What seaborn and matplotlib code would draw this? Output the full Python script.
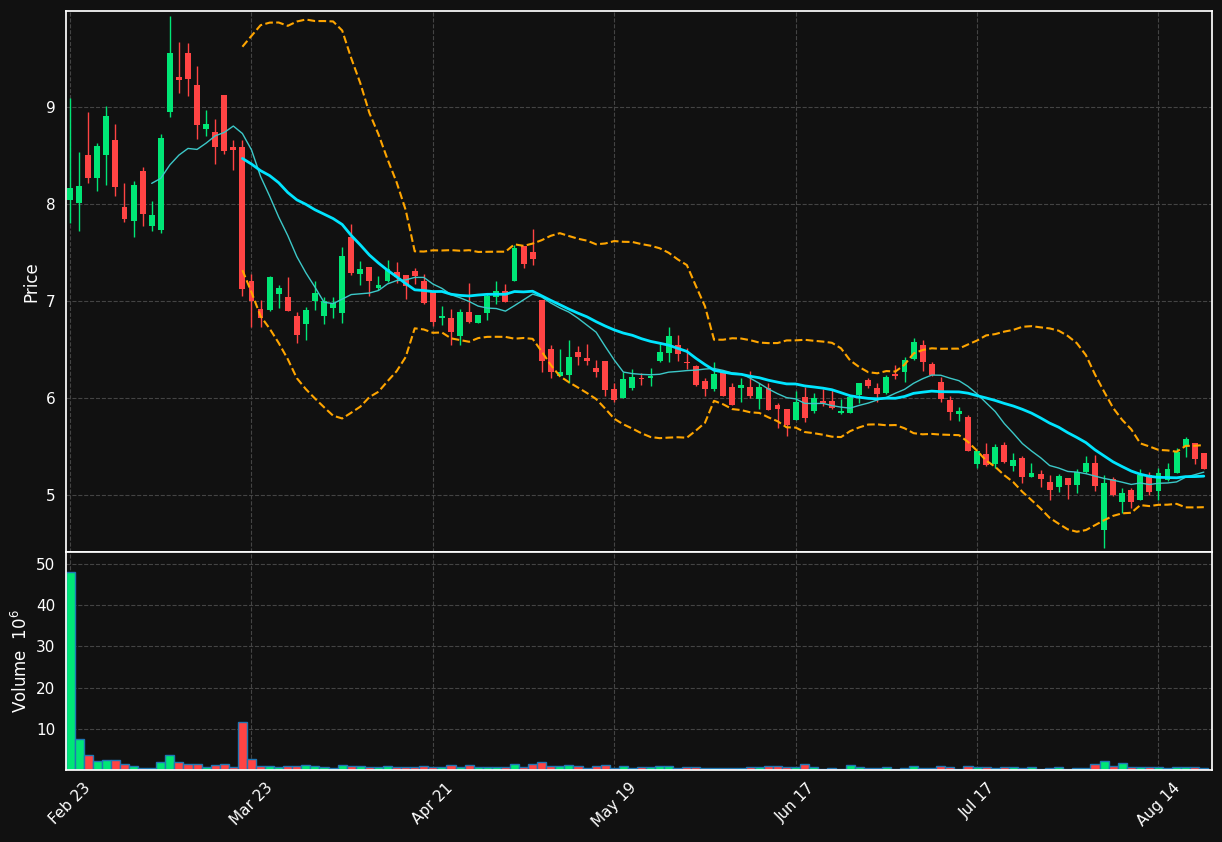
import numpy as np
import pandas as pd
import matplotlib
matplotlib.use("Agg")
import matplotlib.pyplot as plt
import seaborn as sns

opens = [8.04,8.01,8.50,8.27,8.50,8.66,7.97,7.82,8.34,7.77,7.73,8.95,9.31,9.56,9.23,8.77,8.74,9.12,8.59,8.59,
         7.21,6.92,6.91,7.07,7.04,6.84,6.76,7.00,6.84,6.93,6.88,7.66,7.28,7.35,7.13,7.21,7.30,7.27,7.31,7.20,
         7.09,6.82,6.82,6.64,6.89,6.77,6.87,7.04,7.10,7.21,7.57,7.50,7.01,6.50,6.23,6.24,6.47,6.41,6.31,6.38,
         6.09,6.00,6.10,6.20,6.20,6.38,6.46,6.55,6.37,6.33,6.17,6.09,6.27,6.11,6.10,6.11,5.99,6.10,5.93,5.89,
         5.77,6.01,5.86,5.97,5.97,5.84,5.84,6.03,6.18,6.10,6.05,6.24,6.27,6.40,6.54,6.35,6.16,5.98,5.83,5.80,
         5.32,5.42,5.32,5.51,5.30,5.38,5.18,5.21,5.13,5.08,5.17,5.10,5.24,5.33,4.64,5.16,4.93,5.05,4.95,5.20,
         5.04,5.15,5.23,5.50,5.53,5.43]
closes = [8.16,8.18,8.27,8.60,8.91,8.17,7.84,8.20,7.90,7.89,8.68,9.56,9.28,9.29,8.81,8.82,8.59,8.55,8.56,7.12,
          7.00,6.82,7.25,7.13,6.90,6.65,6.91,7.08,7.00,6.98,7.46,7.29,7.33,7.21,7.16,7.33,7.25,7.15,7.26,6.98,
          6.78,6.84,6.68,6.89,6.78,6.85,7.05,7.10,6.99,7.55,7.38,7.43,6.38,6.27,6.27,6.42,6.42,6.38,6.27,6.08,
          5.98,6.19,6.22,6.19,6.23,6.47,6.64,6.45,6.36,6.13,6.09,6.25,6.02,5.93,6.13,6.02,6.11,5.87,5.88,5.72,
          5.96,5.79,6.00,5.95,5.90,5.86,6.01,6.15,6.12,6.04,6.22,6.23,6.39,6.58,6.37,6.24,5.99,5.85,5.86,5.45,
          5.45,5.31,5.49,5.34,5.36,5.18,5.23,5.16,5.05,5.19,5.10,5.24,5.33,5.09,5.12,5.00,5.02,4.93,5.20,5.03,
          5.23,5.27,5.44,5.58,5.37,5.27]
highs = [9.09,8.54,8.95,8.63,9.01,8.82,8.22,8.24,8.38,8.03,8.72,9.94,9.67,9.66,9.42,8.97,8.88,9.12,8.66,8.66,
         7.28,7.01,7.26,7.16,7.25,6.89,6.94,7.20,7.04,7.04,7.56,7.79,7.41,7.35,7.26,7.42,7.40,7.27,7.34,7.28,
         7.09,6.95,6.92,6.92,7.18,6.85,7.07,7.21,7.17,7.58,7.57,7.74,7.01,6.54,6.50,6.60,6.53,6.56,6.39,6.38,
         6.15,6.27,6.30,6.26,6.31,6.57,6.73,6.65,6.51,6.34,6.20,6.37,6.27,6.15,6.20,6.28,6.15,6.15,5.95,5.89,
         6.07,6.11,6.05,6.09,6.09,5.99,6.01,6.15,6.20,6.15,6.24,6.34,6.42,6.62,6.60,6.37,6.22,6.02,5.91,5.82,
         5.45,5.53,5.52,5.54,5.43,5.40,5.33,5.26,5.20,5.21,5.17,5.27,5.40,5.41,5.20,5.18,5.07,5.07,5.27,5.24,
         5.28,5.33,5.48,5.60,5.53,5.43]
lows = [7.80,7.72,8.22,8.13,8.19,8.08,7.81,7.66,7.77,7.72,7.70,8.90,9.14,9.11,8.67,8.70,8.41,8.51,8.35,7.05,
        6.73,6.73,6.90,6.93,6.90,6.57,6.60,6.91,6.76,6.82,6.77,7.27,7.16,7.05,7.11,7.19,7.18,7.02,7.17,6.97,
        6.74,6.75,6.55,6.55,6.77,6.77,6.80,6.97,6.99,7.21,7.34,7.37,6.27,6.20,6.23,6.15,6.34,6.34,6.22,6.02,
        5.96,6.00,6.08,6.13,6.12,6.37,6.37,6.38,6.30,6.12,6.02,6.07,6.02,5.93,5.96,6.00,5.88,5.87,5.69,5.61,
        5.77,5.75,5.84,5.92,5.88,5.83,5.84,5.95,6.10,5.96,6.04,6.19,6.16,6.39,6.28,6.23,5.96,5.77,5.76,5.45,
        5.28,5.30,5.28,5.33,5.25,5.12,5.18,5.08,4.95,5.03,4.96,5.02,5.22,5.04,4.45,4.99,4.81,4.86,4.95,5.00,
        4.95,5.14,5.23,5.39,5.32,5.27]
volumes = [48,7.5,3.75,2.25,2.5,2.5,1.5,1.0,0.6,0.6,2.0,3.75,2.0,1.5,1.5,0.75,1.25,1.5,0.75,11.75,
           2.75,1,1,0.75,1,1,1.25,1,0.75,0.5,1.25,1,1,0.75,0.75,1,0.75,0.75,0.75,1,
           0.75,0.75,1.25,0.75,1.25,0.75,0.75,0.75,0.75,1.5,0.75,1.5,2.0,1,1,1.25,1,0.5,1,1.25,
           0.5,1,0.5,0.75,0.75,1,1,0.5,0.75,0.75,0.5,0.5,0.5,0.5,0.5,0.75,0.75,1,1,0.75,
           0.75,1.5,0.75,0.25,0.5,0.25,1.25,0.75,0.5,0.5,0.75,0.25,0.5,1,0.5,0.5,1,0.75,0.25,1,
           0.75,0.75,0.5,0.75,0.75,0.5,0.75,0.25,0.5,0.75,0.25,0.5,0.5,1.5,2.25,1,1.75,0.75,0.75,0.75,
           0.75,0.5,0.75,0.75,0.75,0.5]
tick_labels = ["Feb 23", "Mar 23", "Apr 21", "May 19", "Jun 17", "Jul 17", "Aug 14"]

BG = "#111111"
UP = "#00e676"
DN = "#ff4444"

sns.set_theme(style="dark")
plt.rcParams['font.family'] = ['DejaVu Sans']

df = pd.DataFrame({"o": opens, "c": closes, "h": highs, "l": lows, "v": volumes})
df["i"] = np.arange(len(df))
df["ma10"] = df["c"].rolling(10).mean()
df["ma20"] = df["c"].rolling(20).mean()
sd = df["c"].rolling(20).std()
df["up"] = df["ma20"] + 2 * sd
df["lo"] = df["ma20"] - 2 * sd
colors = [UP if c >= o else DN for o, c in zip(df["o"], df["c"])]

fig = plt.figure(figsize=(12.22, 8.42), dpi=100, facecolor=BG)
ax = fig.add_axes([0.054, 0.3444, 0.9378, 0.6426])
axv = fig.add_axes([0.054, 0.0855, 0.9378, 0.2589], sharex=ax)

for a in (ax, axv):
    a.set_facecolor(BG)
    for s in a.spines.values():
        s.set_color("white")
    a.grid(True, color="#444444", linestyle="--", linewidth=0.8)
    a.tick_params(colors="white", labelsize=11, length=4)

ax.vlines(df["i"], df["l"], df["h"], colors=colors, linewidth=1)
ax.bar(df["i"], (df["c"] - df["o"]).abs().clip(lower=0.012), bottom=np.minimum(df["o"], df["c"]),
       width=0.65, color=colors, linewidth=0)
sns.lineplot(data=df, x="i", y="ma10", ax=ax, color="#3cc8c8", linewidth=1)
sns.lineplot(data=df, x="i", y="ma20", ax=ax, color="#00e5ff", linewidth=2)
sns.lineplot(data=df, x="i", y="up", ax=ax, color="#ffa500", linewidth=1.5, linestyle="--")
sns.lineplot(data=df, x="i", y="lo", ax=ax, color="#ffa500", linewidth=1.5, linestyle="--")
ax.set_ylim(4.41, 9.99)
ax.set_yticks([5, 6, 7, 8, 9])
ax.set_ylabel("Price", color="white", fontsize=12)
ax.set_xlabel("")
plt.setp(ax.get_xticklabels(), visible=False)

axv.bar(df["i"], df["v"], width=1.0, color=colors, edgecolor="#1f77b4", linewidth=1)
axv.set_ylim(0, 52.9)
axv.set_yticks([10, 20, 30, 40, 50])
axv.set_ylabel("Volume  $10^6$", color="white", fontsize=12)
axv.set_xlim(-0.45, 125.9)
axv.set_xticks([0, 20, 40, 60, 80, 100, 120])
axv.set_xticklabels(tick_labels, rotation=45, ha="center", color="white")

fig.savefig("out.png", dpi=100, facecolor=BG)
